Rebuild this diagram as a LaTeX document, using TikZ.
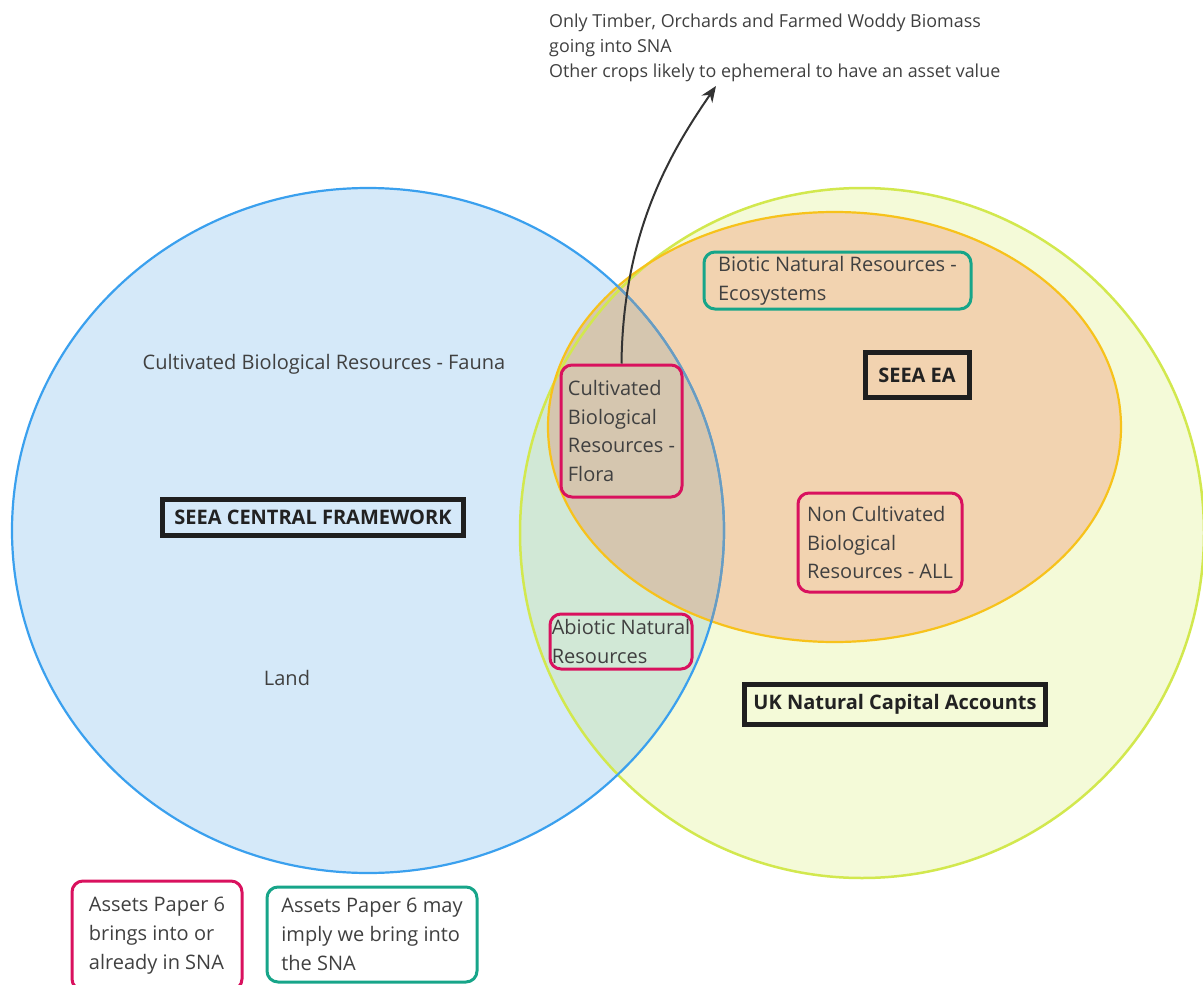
\documentclass[tikz,border=0pt]{standalone}
\usepackage{fontspec}
\setmainfont{Open Sans}
\usetikzlibrary{arrows.meta}
\definecolor{bluefill}{HTML}{D5E9F9}
\definecolor{bluestroke}{HTML}{3AA0EE}
\definecolor{bluedark}{HTML}{6A9CC0}
\definecolor{yelfill}{HTML}{F4FAD8}
\definecolor{yelstroke}{HTML}{D2E84E}
\definecolor{orfill}{HTML}{F2D3B0}
\definecolor{orstroke}{HTML}{F7C21B}
\definecolor{greenov}{HTML}{D1E8D6}
\definecolor{brownov}{HTML}{D5C6AF}
\definecolor{crimson}{HTML}{D9115E}
\definecolor{teal}{HTML}{17A589}
\definecolor{txt}{HTML}{404040}
\definecolor{boldtxt}{HTML}{222222}
\tikzset{
  lbl/.style={text=txt, font=\fontsize{20}{28.8}\selectfont, align=left, inner sep=0pt},
  redbox/.style={lbl, draw=crimson, line width=3pt, rounded corners=11pt},
  tealbox/.style={lbl, draw=teal, line width=3pt, rounded corners=11pt},
  blackbox/.style={draw=black!88, line width=5pt, inner sep=0pt, text=boldtxt,
    font=\fontsize{20}{24}\selectfont\bfseries},
  arr/.style={draw=black!80, line width=2pt, -{Stealth[length=16pt,width=13pt]}}
}
\begin{document}
\begin{tikzpicture}[x=1pt,y=-1pt]
\useasboundingbox (0,0) rectangle (1203,985);
% fills
\fill[yelfill] (862,533) ellipse [x radius=342, y radius=345];
\fill[orfill] (834.5,427) ellipse [x radius=286.5, y radius=215];
\fill[bluefill] (368,530.5) ellipse [x radius=356, y radius=342.5];
\begin{scope}
  \clip (368,530.5) ellipse [x radius=356, y radius=342.5];
  \fill[greenov] (862,533) ellipse [x radius=342, y radius=345];
  \fill[brownov] (834.5,427) ellipse [x radius=286.5, y radius=215];
\end{scope}
% strokes
\draw[yelstroke, line width=2.5pt] (862,533) ellipse [x radius=342, y radius=345];
\draw[orstroke, line width=2.2pt] (834.5,427) ellipse [x radius=286.5, y radius=215];
\draw[bluestroke, line width=2.2pt] (368,530.5) ellipse [x radius=356, y radius=342.5];
\begin{scope}
  \clip (834.5,427) ellipse [x radius=286.5, y radius=215];
  \draw[bluedark, line width=2.2pt] (368,530.5) ellipse [x radius=356, y radius=342.5];
\end{scope}

% texts
\node[lbl, anchor=west, font=\fontsize{17.9}{25}\selectfont] (note) at (549,48)
  {Only Timber, Orchards and Farmed Woddy Biomass\\going into SNA\\Other crops likely to ephemeral to have an asset value};
\node[lbl] (fauna) at (324,364) {Cultivated Biological Resources - Fauna};
\node[lbl] (land) at (287,678) {Land};

\node[tealbox, minimum width=267pt, minimum height=57pt] (biotic) at (837.5,280.5)
  {Biotic Natural Resources -\\Ecosystems};
\node[redbox, minimum width=121pt, minimum height=132pt] (flora) at (621.5,431)
  {Cultivated\\Biological\\Resources -\\Flora};
\node[redbox, minimum width=164pt, minimum height=99pt] (noncult) at (880,542.5)
  {Non Cultivated\\Biological\\Resources - ALL};
\node[redbox, minimum width=142pt, minimum height=55pt] (abiotic) at (621,641.5)
  {Abiotic Natural\\Resources};

\node[blackbox, minimum width=104pt, minimum height=45pt] (seeaea) at (917,375) {SEEA EA};
\node[blackbox, minimum width=301pt, minimum height=40pt] (uknca) at (895,704.5) {UK Natural Capital Accounts};
\node[blackbox, minimum width=301pt, minimum height=36pt] (seeacf) at (313,517.5) {SEEA CENTRAL FRAMEWORK};

\node[redbox, minimum width=170pt, minimum height=109pt] (leg1) at (157,935.5)
  {Assets Paper 6\\brings into or\\already in SNA};
\node[tealbox, minimum width=210pt, minimum height=95pt] (leg2) at (372,934.5)
  {Assets Paper 6 may\\imply we bring into\\the SNA};

\coordinate (tip) at (716,86);
\draw[arr] (flora.north) .. controls (623,230) and (672,150) .. (tip);
\end{tikzpicture}
\end{document}
